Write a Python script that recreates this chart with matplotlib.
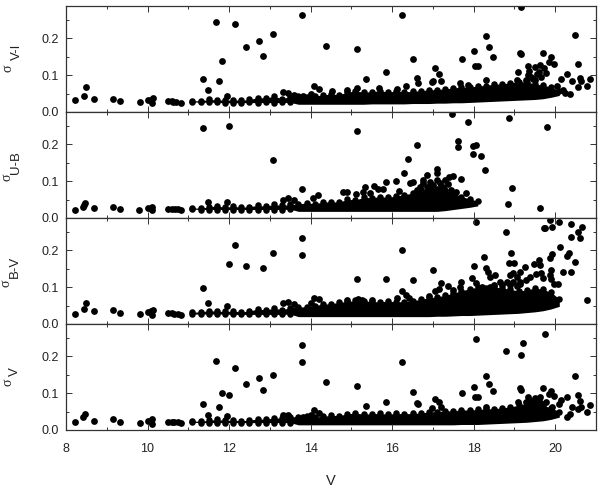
import matplotlib
matplotlib.use("Agg")
import matplotlib.pyplot as plt
from matplotlib.ticker import MultipleLocator

plt.rcParams["font.family"] = ["Liberation Sans", "DejaVu Sans"]

# single stars
v_vi = [8.22, 8.44, 8.48, 8.69, 9.16, 9.32, 9.81, 10.0, 10.08, 10.1, 10.14, 10.51, 10.59, 10.63, 10.71, 10.82,
        11.37, 11.49, 11.68, 11.82, 11.76, 12.15, 11.95, 12.41, 12.73, 12.84, 13.08, 13.33, 13.45, 13.6, 13.78,
        14.37, 15.13, 15.36, 15.84, 16.24, 16.52, 16.6, 16.64, 17.04, 17.15, 17.21, 17.71, 18.0, 18.04, 18.11,
        18.3, 18.38, 18.48, 19.15, 19.13, 19.16, 19.08, 19.71, 19.9, 19.85, 19.96, 20.49, 20.57, 20.3, 20.15,
        20.4, 20.6, 20.64, 20.85, 20.55, 20.78, 20.36, 19.32, 19.5, 19.62, 19.73, 19.77, 19.33, 19.55, 19.29,
        19.5, 19.05, 18.29, 17.66, 17.87, 16.97, 17.0, 16.35, 15.68, 16.12, 15.14, 14.9, 14.52, 14.08, 14.2,
        14.02, 13.82, 19.4, 19.6, 19.35, 19.65, 19.45, 20.05, 20.2, 20.25]
s_vi = [.032, .044, .068, .034, .034, .029, .027, .032, .033, .024, .038, .031, .031, .027, .028, .025,
        .091, .059, .245, .139, .083, .238, .044, .177, .193, .152, .211, .055, .052, .046, .263,
        .178, .171, .091, .109, .263, .145, .092, .078, .119, .104, .085, .143, .166, .125, .125,
        .206, .177, .150, .286, .161, .157, .110, .159, .150, .136, .131, .208, .130, .103, .090,
        .084, .092, .083, .090, .069, .070, .049, .125, .123, .127, .120, .105, .100, .103, .087,
        .087, .087, .087, .078, .073, .082, .084, .072, .064, .062, .064, .060, .056, .072, .062,
        .049, .044, .095, .110, .112, .095, .090, .070, .060, .052]

v_ub = [8.22, 8.42, 8.45, 8.47, 8.69, 9.16, 9.32, 9.8, 10.0, 10.08, 10.12, 10.1, 10.51, 10.59, 10.67, 10.75, 10.82,
        11.37, 11.99, 13.08, 11.49, 11.95, 13.33, 13.45, 13.6, 13.78,
        15.13, 17.46, 17.85, 18.86, 19.8, 16.6, 16.4, 16.29, 17.61, 17.61, 17.98, 18.05, 17.98, 18.19, 18.27,
        18.93, 18.83, 19.63, 17.68, 17.09, 17.09, 16.85, 17.5, 17.39, 17.29, 16.09, 15.86, 16.5, 16.43,
        15.55, 15.66, 15.78, 15.33, 15.29, 14.8, 14.9, 15.45, 15.12, 14.19, 14.06, 16.18, 17.45, 17.56, 17.82,
        16.76, 16.92, 17.09, 17.37, 17.17, 16.68, 16.6, 17.14, 16.85, 17.26, 16.95, 16.75, 17.0, 17.25]
s_ub = [.023, .031, .035, .040, .028, .029, .024, .023, .026, .027, .031, .021, .025, .025, .024, .024, .023,
        .244, .250, .157, .043, .043, .049, .053, .048, .078,
        .236, .282, .260, .272, .248, .197, .159, .123, .208, .192, .196, .198, .173, .168, .130,
        .081, .039, .028, .106, .132, .123, .117, .114, .112, .103, .100, .097, .097, .094,
        .087, .079, .078, .083, .072, .072, .072, .067, .065, .063, .053, .074, .076, .072, .069,
        .103, .097, .103, .092, .094, .085, .076, .080, .085, .072, .088, .095, .090, .085]

v_bv = [8.22, 8.43, 8.48, 8.69, 9.16, 9.32, 9.81, 10.0, 10.08, 10.1, 10.13, 10.51, 10.59, 10.65, 10.74, 10.82,
        11.37, 11.49, 11.95, 12.0, 12.15, 12.41, 12.84, 13.08, 13.33, 13.45, 13.6, 13.78, 13.78,
        15.13, 15.84, 16.24, 16.52, 16.23, 16.12, 16.35, 16.41, 16.99, 17.2, 17.04, 17.15, 17.37, 17.69, 17.66,
        17.5, 18.06, 18.79, 19.87, 20.09, 19.72, 19.76, 19.91, 20.39, 20.65, 20.56, 20.38, 20.61, 20.11, 20.33,
        20.29, 20.49, 20.2, 20.38, 19.93, 19.86, 19.6, 19.63, 19.47, 19.27, 18.92, 18.87, 19.0, 18.25, 18.0,
        18.3, 18.35, 18.52, 18.4, 17.96, 18.06, 19.13, 18.97, 18.89, 19.05, 19.37, 19.29, 19.54, 19.66, 19.9,
        19.86, 19.7, 19.9, 19.96, 20.08, 20.79, 18.97, 19.13, 18.81, 18.64, 19.13, 18.5, 18.7, 18.9, 19.05,
        18.2, 18.4, 14.08, 14.2, 14.02, 14.9, 15.15, 15.25, 15.5, 16.9]
s_bv = [.028, .042, .056, .035, .037, .029, .026, .033, .034, .024, .039, .031, .031, .028, .028, .024,
        .098, .057, .049, .162, .214, .157, .152, .193, .058, .061, .053, .233, .188,
        .122, .122, .200, .120, .091, .072, .079, .072, .147, .111, .089, .094, .103, .115, .101,
        .092, .276, .249, .283, .278, .262, .262, .264, .273, .264, .251, .236, .234, .210, .194,
        .184, .168, .141, .140, .189, .178, .174, .159, .162, .155, .193, .165, .165, .183, .157,
        .153, .140, .133, .129, .124, .112, .140, .138, .133, .129, .129, .120, .135, .138, .147,
        .133, .124, .122, .108, .108, .065, .115, .115, .115, .115, .110, .105, .105, .105, .102,
        .100, .100, .070, .067, .058, .066, .068, .066, .064, .075]

v_v = [8.22, 8.42, 8.47, 8.69, 9.16, 9.32, 9.81, 10.0, 10.08, 10.12, 10.1, 10.51, 10.59, 10.65, 10.74, 10.82,
       11.37, 11.49, 11.68, 11.82, 11.76, 12.0, 11.95, 12.15, 12.41, 12.73, 12.84, 13.08, 13.33, 13.45, 13.78, 13.78,
       14.37, 15.13, 15.36, 15.84, 16.24, 16.52, 16.6, 16.64, 17.04, 17.15, 17.2, 16.97, 17.71, 18.0, 18.04, 18.11,
       18.06, 18.79, 19.15, 19.22, 19.75, 18.3, 18.38, 18.48, 19.13, 19.15, 19.08, 19.71, 19.9, 19.85, 19.96,
       20.49, 20.3, 20.57, 20.6, 20.15, 20.4, 20.85, 20.64, 20.55, 20.78, 20.36, 20.28, 19.32, 19.5, 19.62,
       19.77, 19.33, 19.55, 19.7, 19.29, 18.29, 14.08, 14.2, 14.02, 13.82, 19.93, 20.1, 19.4, 19.6]
s_v = [.023, .035, .043, .025, .029, .022, .019, .024, .025, .029, .015, .023, .023, .022, .022, .018,
       .072, .042, .187, .101, .062, .094, .037, .168, .126, .142, .108, .149, .040, .041, .186, .231,
       .130, .120, .065, .076, .186, .103, .074, .071, .085, .077, .062, .059, .101, .118, .090, .090,
       .247, .214, .203, .237, .260, .146, .125, .106, .113, .110, .077, .113, .107, .098, .093,
       .147, .091, .094, .080, .081, .063, .068, .063, .058, .050, .043, .036, .089, .087, .091,
       .077, .068, .075, .072, .077, .063, .053, .047, .041, .036, .063, .072, .080, .082]

# dense band of the main sequence: upper and lower edge at each V
band_v = [11.1, 11.3, 11.5, 11.7, 11.9, 12.1, 12.3, 12.5, 12.7, 12.9, 13.1, 13.3, 13.5,
          13.7, 13.9, 14.1, 14.3, 14.5, 14.7, 14.9, 15.1, 15.3, 15.5, 15.7, 15.9, 16.1, 16.3, 16.5, 16.7, 16.9,
          17.1, 17.3, 17.5, 17.7, 17.9, 18.1, 18.3, 18.5, 18.7, 18.9, 19.1, 19.3, 19.5, 19.7, 19.9, 20.1]

hi_vi = [.031, .030, .034, .033, .032, .033, .032, .034, .039, .038, .043, .036, .042,
         .044, .041, .044, .046, .049, .047, .054, .057, .054, .055, .058, .054, .057, .055, .056, .058, .060,
         .061, .063, .065, .068, .067, .071, .072, .076, .076, .080, .082, .082, .076, .073, .068, .058]
lo_vi = [.028, .026, .027, .026, .025, .025, .025, .026, .025, .026, .025, .026, .026,
         .021, .021, .021, .021, .021, .021, .021, .021, .021, .022, .022, .022, .022, .022, .023, .023, .023,
         .024, .024, .025, .025, .026, .027, .028, .029, .030, .031, .032, .033, .034, .036, .040, .045]

hi_ub = [.027, .027, .030, .033, .029, .032, .029, .031, .034, .032, .037, .034, .037,
         .038, .041, .039, .043, .044, .043, .051, .049, .056, .055, .058, .056, .060, .063, .068, .076, .082,
         .080, .076, .068, .058, .052, .046]
lo_ub = [.024, .023, .023, .023, .023, .023, .023, .023, .023, .023, .023, .023, .024,
         .018, .018, .018, .018, .018, .018, .018, .018, .018, .018, .018, .018, .018, .018, .018, .018, .018,
         .018, .020, .023, .026, .029, .033]

hi_bv = [.032, .033, .036, .035, .034, .035, .033, .035, .041, .038, .043, .039, .044,
         .046, .047, .050, .054, .055, .059, .061, .064, .063, .061, .060, .062, .060, .061, .063, .067, .071,
         .074, .078, .084, .090, .096, .100, .099, .100, .098, .094, .090, .092, .098, .094, .086, .068]
lo_bv = [.027, .027, .027, .027, .027, .026, .026, .026, .026, .026, .026, .026, .027,
         .020, .020, .020, .020, .020, .020, .020, .020, .020, .020, .020, .020, .020, .020, .020, .020, .020,
         .021, .021, .022, .023, .023, .024, .025, .026, .027, .028, .029, .031, .033, .036, .041, .048]

hi_v = [.024, .024, .026, .029, .026, .027, .025, .027, .030, .029, .033, .032, .036,
        .036, .037, .035, .037, .040, .039, .044, .046, .043, .044, .045, .043, .045, .044, .045, .046, .049,
        .050, .052, .052, .055, .054, .056, .057, .058, .060, .063, .067, .073, .075, .067, .060, .050]
lo_v = [.021, .020, .020, .020, .020, .020, .020, .020, .020, .020, .020, .020, .020,
        .014, .014, .014, .014, .014, .014, .014, .014, .014, .014, .014, .014, .014, .014, .014, .014, .014,
        .014, .014, .014, .015, .015, .015, .016, .017, .018, .019, .020, .021, .023, .025, .029, .035]

panels = [
    (v_vi, s_vi, band_v, hi_vi, lo_vi),
    (v_ub, s_ub, band_v[:36], hi_ub, lo_ub),
    (v_bv, s_bv, band_v, hi_bv, lo_bv),
    (v_v, s_v, band_v, hi_v, lo_v),
]
# (sigma x, sigma y, subscript x, subscript y, subscript) in pixels
labels = [
    (8, 68, 17, 52, "V-I"),
    (7, 177, 16, 163, "U-B"),
    (6, 283, 15, 267, "B-V"),
    (8, 382, 15, 372, "V"),
]

fig, axes = plt.subplots(4, 1, figsize=(6, 4.87), dpi=100, sharex=True)
fig.subplots_adjust(left=66 / 600, right=596 / 600, top=1 - 6 / 487, bottom=1 - 430 / 487, hspace=0)

for ax, (v, s, bv, hi, lo) in zip(axes, panels):
    ax.fill_between(bv, lo, hi, color="black", linewidth=0)
    ax.scatter(bv, hi, s=22, color="black", linewidths=0)
    # below V=13.6 the stars are still separate, so the lower edge shows single dots
    ax.scatter(bv[:13], lo[:13], s=22, color="black", linewidths=0)
    ax.scatter(v, s, s=24, color="black", linewidths=0)

    ax.set_xlim(8, 21)
    ax.set_ylim(0, 0.288)
    ax.xaxis.set_major_locator(MultipleLocator(2))
    ax.xaxis.set_minor_locator(MultipleLocator(1))
    ax.yaxis.set_major_locator(MultipleLocator(0.1))
    ax.yaxis.set_minor_locator(MultipleLocator(0.05))
    ax.tick_params(which="major", direction="in", length=4, width=0.7, color="#333333",
                   top=True, right=True, labelsize=9, labelcolor="#222222", pad=5)
    ax.tick_params(which="minor", direction="in", length=2.5, width=0.7, color="#333333",
                   top=True, right=True)
    ax.tick_params(axis="x", which="major", pad=9)
    for spine in ax.spines.values():
        spine.set_linewidth(0.9)
        spine.set_color("#333333")

axes[-1].set_xlabel("V", fontsize=10.5, labelpad=14, color="#222222")

for sx, sy, tx, ty, sub in labels:
    fig.text(sx / 600, 1 - sy / 487, "\u03c3", family="Liberation Serif", fontsize=10, rotation=90,
             ha="center", va="center", color="#222222")
    fig.text(tx / 600, 1 - ty / 487, sub, fontsize=9.5, rotation=90,
             ha="center", va="center", color="#222222")

fig.savefig("out.png", dpi=100)
plt.close(fig)
